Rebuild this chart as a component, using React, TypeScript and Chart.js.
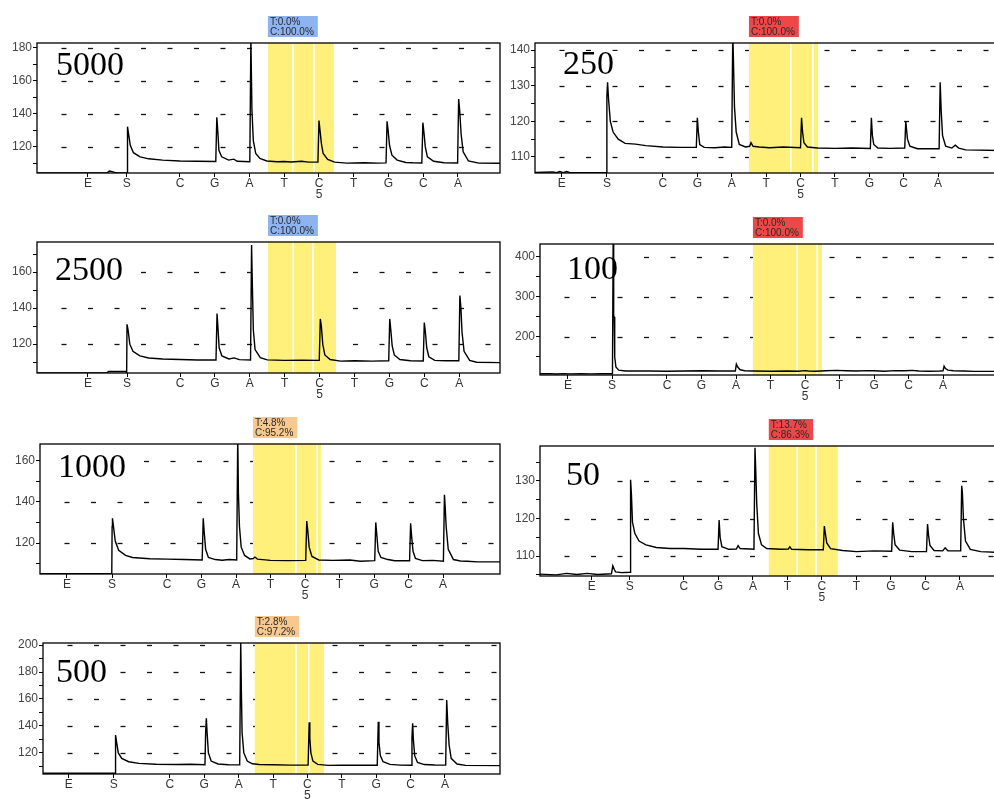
import React, { useEffect, useRef } from 'react';
import { Chart, registerables } from 'chart.js';
Chart.register(...registerables);

// ---------- DATA ----------
const DISPENSATIONS = ['E', 'S', 'C', 'G', 'A', 'T', 'C', 'T', 'G', 'C', 'A'];
const POSITION_NUMBERS = ['', '', '', '', '', '', '5', '', '', '', ''];

const TICKS_5000 = [1.35, 2.47, 4, 5, 6, 7, 8, 9, 10, 11, 12];
const TICKS_250 = [1.06, 2.37, 4, 5, 6, 7, 8, 9, 10, 11, 12];
const TICKS_2500 = [1.36, 2.48, 4, 5, 6, 7, 8, 9, 10, 11, 12];
const TICKS_100 = [1.13, 2.41, 4, 5, 6, 7, 8, 9, 10, 11, 12];
const TICKS_1000 = [1.1, 2.41, 4, 5, 6, 7, 8, 9, 10, 11, 12];
const TICKS_50 = [1.33, 2.43, 4, 5, 6, 7, 8, 9, 10, 11, 12];
const TICKS_500 = [1.06, 2.37, 4, 5, 6, 7, 8, 9, 10, 11, 12];

const YTICKS_5000 = [110, 120, 130, 140, 150, 160, 170, 180];
const YLABELS_5000 = [120, 140, 160, 180];
const YTICKS_250 = [110, 115, 120, 125, 130, 135, 140];
const YLABELS_250 = [110, 120, 130, 140];
const YTICKS_2500 = [110, 120, 130, 140, 150, 160, 170];
const YLABELS_2500 = [120, 140, 160];
const YTICKS_100 = [150, 200, 250, 300, 350, 400];
const YLABELS_100 = [200, 300, 400];
const YTICKS_1000 = [110, 120, 130, 140, 150, 160];
const YLABELS_1000 = [120, 140, 160];
const YTICKS_50 = [105, 110, 115, 120, 125, 130, 135];
const YLABELS_50 = [110, 120, 130];
const YTICKS_500 = [110, 120, 130, 140, 150, 160, 170, 180, 190, 200];
const YLABELS_500 = [120, 140, 160, 180, 200];

const RESULT_5000 = ['T:0.0%', 'C:100.0%'];
const RESULT_250 = ['T:0.0%', 'C:100.0%'];
const RESULT_2500 = ['T:0.0%', 'C:100.0%'];
const RESULT_100 = ['T:0.0%', 'C:100.0%'];
const RESULT_1000 = ['T:4.8%', 'C:95.2%'];
const RESULT_50 = ['T:13.7%', 'C:86.3%'];
const RESULT_500 = ['T:2.8%', 'C:97.2%'];

const TRACE_5000 = [
  [-0.2, 104.3], [1.9, 104.3], [1.97, 105.4], [2.05, 105.0], [2.12, 104.6], [2.2, 104.4], [2.48, 104.3],
  [2.49, 132.3], [2.52, 128], [2.57, 121], [2.66, 116.5], [2.85, 114], [3.1, 112.8], [3.5, 112], [4.0, 111.5], [4.5, 111.3], [5.03, 111.2],
  [5.06, 138], [5.09, 129], [5.12, 118], [5.2, 114], [5.4, 112], [5.55, 112.6], [5.65, 111.3], [6.01, 111],
  [6.04, 186], [6.07, 143], [6.11, 124], [6.18, 116], [6.3, 113], [6.5, 111.5], [6.8, 111], [7.0, 111.2], [7.2, 110.9], [7.5, 111.3], [7.7, 110.8], [7.97, 110.8],
  [8.0, 136], [8.03, 130], [8.07, 122], [8.12, 116], [8.25, 112.5], [8.45, 110.8], [8.8, 110.2], [9.3, 110.4], [9.7, 110.2], [9.93, 110.3],
  [9.96, 135.5], [9.99, 130], [10.03, 121], [10.1, 115], [10.25, 112], [10.5, 110.6], [10.7, 110.4], [10.96, 110.3],
  [10.99, 134.7], [11.02, 129], [11.06, 120], [11.12, 114], [11.3, 111.3], [11.6, 110.4], [11.99, 110.3],
  [12.02, 149], [12.05, 142], [12.09, 128], [12.15, 117], [12.3, 111.5], [12.6, 110.2], [13.4, 110.1],
];

const TRACE_250 = [
  [0.1, 105.6], [0.8, 105.8], [0.9, 105.6], [1.0, 105.9], [1.1, 105.6], [1.2, 105.9], [1.3, 105.6], [1.5, 105.6], [2.36, 105.6],
  [2.37, 127], [2.39, 131], [2.42, 126], [2.47, 120], [2.55, 117], [2.7, 115], [2.9, 113.8], [3.2, 113.6], [3.5, 113.2], [4.0, 112.8], [4.5, 112.7], [4.97, 112.7],
  [5.0, 121], [5.03, 117], [5.07, 113.5], [5.2, 112.7], [5.5, 112.6], [5.8, 112.8], [6.0, 112.7],
  [6.03, 145], [6.05, 137], [6.08, 124], [6.13, 117], [6.22, 113.5], [6.4, 112.8], [6.52, 113], [6.56, 114], [6.62, 113], [6.8, 112.8], [7.1, 112.6], [7.5, 112.8], [8.0, 112.6],
  [8.03, 121], [8.06, 117], [8.1, 114], [8.2, 112.8], [8.5, 112.5], [9.0, 112.4], [9.5, 112.5], [10.03, 112.4],
  [10.06, 121], [10.09, 116], [10.13, 113.5], [10.25, 112.5], [10.6, 112.4], [11.03, 112.5],
  [11.06, 120], [11.08, 118], [11.11, 115], [11.18, 113], [11.4, 112.3], [12.03, 112.3],
  [12.06, 131], [12.09, 123], [12.13, 116], [12.22, 113], [12.4, 112.5], [12.5, 113.3], [12.6, 112.5], [12.8, 112], [13.9, 111.8],
];

const TRACE_2500 = [
  [-0.2, 104], [1.9, 104], [1.95, 104.8], [2.45, 104.8], [2.47, 104.3],
  [2.48, 131], [2.51, 128], [2.56, 120], [2.65, 116], [2.85, 113.5], [3.1, 112.3], [3.5, 111.8], [4.0, 111.5], [4.5, 111.2], [5.03, 111.2],
  [5.06, 137], [5.09, 128], [5.12, 118], [5.2, 113.5], [5.4, 111.8], [5.55, 112.4], [5.7, 111.4], [6.02, 111.2],
  [6.05, 175], [6.07, 155], [6.1, 128], [6.15, 117], [6.3, 112.5], [6.5, 111.3], [7.0, 111], [7.5, 111.1], [7.99, 111],
  [8.02, 134], [8.05, 130], [8.09, 120], [8.15, 114], [8.3, 111.5], [8.6, 110.6], [9.0, 110.8], [9.5, 110.6], [9.98, 110.8],
  [10.01, 134], [10.04, 128], [10.08, 119], [10.14, 114], [10.3, 111.5], [10.6, 110.8], [10.97, 110.7],
  [11.0, 132], [11.03, 127], [11.07, 118], [11.13, 113], [11.3, 111], [11.6, 110.8], [11.99, 110.8],
  [12.02, 147], [12.05, 140], [12.08, 127], [12.14, 116], [12.3, 111], [12.5, 110], [13.3, 109.7],
];

const TRACE_100 = [
  [0.2, 108], [0.6, 108.5], [0.8, 107.5], [1.0, 108.5], [1.2, 107.8], [1.5, 108.5], [1.8, 107.8], [2.1, 108.3], [2.42, 108],
  [2.44, 440], [2.455, 250], [2.47, 250], [2.485, 150], [2.52, 125], [2.6, 117], [2.8, 115], [3.5, 115], [4.0, 114.5], [4.5, 114.8], [5.0, 115.5], [5.5, 115], [5.98, 115],
  [6.01, 132], [6.05, 125], [6.12, 118], [6.25, 115.5], [6.5, 115], [7.0, 114.5], [7.5, 115], [7.8, 114.5], [8.0, 116], [8.1, 115], [8.3, 114.5], [8.6, 115.5], [8.9, 116.5], [9.2, 115.5], [9.5, 115], [9.8, 116], [10.0, 115.5], [10.3, 114.5], [10.6, 116], [10.9, 115.5], [11.1, 116.5], [11.3, 115], [11.6, 114.5], [11.9, 115], [12.0, 115.5],
  [12.03, 127], [12.07, 121], [12.14, 117], [12.3, 115.5], [12.6, 115], [12.9, 114], [13.8, 114],
];

const TRACE_1000 = [
  [0.3, 105.2], [2.4, 105.2],
  [2.41, 128], [2.42, 132], [2.45, 128], [2.5, 121], [2.6, 116.5], [2.8, 114], [3.0, 113], [3.5, 112.4], [4.0, 112.2], [4.5, 112], [5.02, 111.8],
  [5.05, 132], [5.08, 125], [5.12, 117], [5.2, 113], [5.4, 112], [5.6, 111.7], [5.8, 112], [6.02, 111.8],
  [6.05, 172], [6.07, 144], [6.1, 128], [6.15, 118], [6.25, 114], [6.4, 112.3], [6.5, 112.5], [6.55, 113.2], [6.62, 112.2], [7.0, 111.6], [7.5, 111.5], [8.02, 111.6],
  [8.05, 130.7], [8.08, 126], [8.12, 118], [8.2, 113.5], [8.4, 111.8], [8.8, 111.6], [9.3, 111.8], [9.6, 111.2], [10.02, 111.5],
  [10.05, 130], [10.08, 124], [10.12, 116], [10.2, 113], [10.4, 112], [10.6, 111.4], [11.03, 111.4],
  [11.06, 129.6], [11.09, 123], [11.13, 116], [11.2, 112.5], [11.4, 111.5], [11.7, 111.6], [12.01, 111.2],
  [12.04, 143.4], [12.06, 138], [12.09, 128], [12.15, 117], [12.3, 112], [12.5, 111.3], [12.7, 111.2], [13.0, 110.9], [13.7, 110.9],
];

const TRACE_50 = [
  [-0.2, 105.2], [0.3, 105], [0.6, 105.4], [0.9, 105.1], [1.2, 105.4], [1.5, 105.1], [1.9, 105.3], [1.94, 107.4], [1.98, 106.5], [2.02, 105.8], [2.2, 105.6], [2.44, 105.7],
  [2.45, 126], [2.46, 130.3], [2.48, 126.3], [2.51, 119], [2.58, 116], [2.7, 114], [2.9, 113], [3.2, 112.3], [3.6, 112], [4.0, 112], [4.5, 111.8], [4.99, 111.8],
  [5.02, 119.6], [5.05, 115], [5.1, 112.5], [5.3, 111.8], [5.52, 111.9], [5.57, 112.8], [5.63, 112], [6.03, 111.8],
  [6.06, 138.8], [6.08, 133.4], [6.11, 124], [6.16, 116], [6.25, 113], [6.4, 112], [6.8, 111.8], [7.03, 111.9], [7.07, 112.5], [7.12, 111.8], [7.6, 111.7], [8.04, 111.7],
  [8.07, 118], [8.1, 116], [8.14, 113.5], [8.25, 112], [8.6, 111.5], [9.0, 111.2], [9.5, 111.4], [10.02, 111.3],
  [10.05, 119], [10.08, 116], [10.12, 113], [10.25, 111.6], [10.6, 111.2], [11.03, 111.2],
  [11.06, 118.5], [11.09, 115.5], [11.13, 112.8], [11.25, 111.5], [11.5, 111.4], [11.57, 112.2], [11.65, 111.4], [12.02, 111.4],
  [12.05, 128.7], [12.07, 126.9], [12.1, 120], [12.16, 114], [12.3, 111.8], [12.6, 111.2], [13.3, 110.9],
];

const TRACE_500 = [
  [0.2, 105], [2.41, 105],
  [2.42, 133.3], [2.45, 128], [2.5, 120], [2.6, 116], [2.8, 113.5], [3.1, 112.3], [3.6, 111.6], [4.2, 111.4], [4.6, 111.6], [5.02, 111.3],
  [5.04, 135.8], [5.06, 145.7], [5.08, 135.8], [5.12, 120], [5.2, 114], [5.4, 111.8], [5.7, 111.3], [6.03, 111.2],
  [6.06, 203], [6.08, 164], [6.1, 135], [6.15, 120], [6.25, 114], [6.4, 112], [6.6, 111.4], [7.0, 111.3], [7.5, 111], [8.02, 111],
  [8.05, 142.7], [8.07, 131], [8.1, 120], [8.16, 114], [8.3, 111.5], [8.6, 110.8], [9.0, 111], [9.5, 110.9], [10.03, 110.9],
  [10.06, 143.2], [10.08, 128], [10.12, 118], [10.2, 113.5], [10.4, 111.5], [10.7, 111], [11.02, 110.9],
  [11.04, 132], [11.06, 142], [11.08, 130], [11.12, 118], [11.2, 113], [11.4, 111.4], [11.7, 111.1], [12.02, 111],
  [12.05, 159.3], [12.08, 142], [12.12, 126], [12.18, 116], [12.35, 111.8], [12.6, 110.8], [13.6, 110.6],
];

// ---------- LAYOUT / STYLE ----------
const BLUE = '#8db3f1';
const RED = '#ee4747';
const ORANGE = '#f7c98e';

type PanelCfg = {
  name: string; trace: number[][]; ticks: number[]; yTicks: number[]; yLabels: number[]; result: string[];
  badge: string; box: number[]; x: number[]; y: number[]; region: number[]; splits: number[]; nameAt: number[];
};

const PANELS: PanelCfg[] = [
  { name: '5000', trace: TRACE_5000, ticks: TICKS_5000, yTicks: YTICKS_5000, yLabels: YLABELS_5000, result: RESULT_5000, badge: BLUE,
    box: [37, 43, 500, 173], x: [-0.115, 13.21], y: [104.2, 183], region: [6.53, 8.43], splits: [7.25, 7.86], nameAt: [19, 32] },
  { name: '250', trace: TRACE_250, ticks: TICKS_250, yTicks: YTICKS_250, yLabels: YLABELS_250, result: RESULT_250, badge: RED,
    box: [535, 43, 1000, 173], x: [0.28, 13.8], y: [105.5, 142], region: [6.5, 8.51], splits: [7.72, 8.36], nameAt: [28, 31] },
  { name: '2500', trace: TRACE_2500, ticks: TICKS_2500, yTicks: YTICKS_2500, yLabels: YLABELS_2500, result: RESULT_2500, badge: BLUE,
    box: [37, 242, 500, 373], x: [-0.1, 13.17], y: [104, 176.7], region: [6.52, 8.47], splits: [7.24, 7.81], nameAt: [18, 38] },
  { name: '100', trace: TRACE_100, ticks: TICKS_100, yTicks: YTICKS_100, yLabels: YLABELS_100, result: RESULT_100, badge: RED,
    box: [540, 244, 1000, 375], x: [0.32, 13.65], y: [105, 432], region: [6.49, 8.49], splits: [7.77, 8.35], nameAt: [27, 35] },
  { name: '1000', trace: TRACE_1000, ticks: TICKS_1000, yTicks: YTICKS_1000, yLabels: YLABELS_1000, result: RESULT_1000, badge: ORANGE,
    box: [40, 444, 500, 574], x: [0.32, 13.65], y: [105, 168], region: [6.49, 8.46], splits: [7.74, 8.35], nameAt: [18, 33] },
  { name: '50', trace: TRACE_50, ticks: TICKS_50, yTicks: YTICKS_50, yLabels: YLABELS_50, result: RESULT_50, badge: RED,
    box: [540, 446, 1000, 576], x: [-0.17, 13.16], y: [104.7, 139.3], region: [6.46, 8.46], splits: [7.28, 7.83], nameAt: [26, 39] },
  { name: '500', trace: TRACE_500, ticks: TICKS_500, yTicks: YTICKS_500, yLabels: YLABELS_500, result: RESULT_500, badge: ORANGE,
    box: [43, 643, 500, 774], x: [0.31, 13.6], y: [104.4, 201.5], region: [6.47, 8.48], splits: [7.67, 8.04], nameAt: [13, 39] },
];

const AXIS_W = 40;
const TOP_PAD = 30;
const AXIS_H = 30;
const SANS = '"Liberation Sans", Arial, sans-serif';

function makePlugin(cfg: PanelCfg) {
  return {
    id: 'pyro-' + cfg.name,
    beforeDatasetsDraw(chart: any) {
      const { ctx, chartArea: a, scales } = chart;
      const xs = scales.x, ys = scales.y;
      ctx.save();
      // dashed grid
      ctx.strokeStyle = '#111';
      ctx.lineWidth = 1.3;
      for (const v of cfg.yLabels) {
        const py = Math.round(ys.getPixelForValue(v)) + 0.5;
        if (py < a.top + 2 || py > a.bottom - 2) continue;
        for (let px = a.left + 27; px < a.right - 3; px += 26.5) {
          ctx.beginPath();
          ctx.moveTo(px - 2.5, py);
          ctx.lineTo(px + 2.5, py);
          ctx.stroke();
        }
      }
      // analysis region
      const x0 = xs.getPixelForValue(cfg.region[0]);
      const x1 = xs.getPixelForValue(cfg.region[1]);
      ctx.fillStyle = '#fff07c';
      ctx.fillRect(x0, a.top, x1 - x0, a.bottom - a.top);
      ctx.strokeStyle = '#ffffff';
      ctx.lineWidth = 1.5;
      for (const s of cfg.splits) {
        const px = xs.getPixelForValue(s);
        ctx.beginPath();
        ctx.moveTo(px, a.top);
        ctx.lineTo(px, a.bottom);
        ctx.stroke();
      }
      // sample name
      ctx.font = '34px "Liberation Serif", "Times New Roman", serif';
      const tw = ctx.measureText(cfg.name).width;
      const tx = a.left + cfg.nameAt[0];
      const ty = a.top + cfg.nameAt[1];
      ctx.fillStyle = '#ffffff';
      ctx.fillRect(tx - 4, ty - 23, tw + 12, 26);
      ctx.fillStyle = '#000';
      ctx.textBaseline = 'alphabetic';
      ctx.textAlign = 'left';
      ctx.fillText(cfg.name, tx, ty);
      ctx.restore();
    },
    afterDraw(chart: any) {
      const { ctx, chartArea: a, scales } = chart;
      ctx.save();
      ctx.strokeStyle = '#000';
      ctx.lineWidth = 1.3;
      ctx.strokeRect(a.left, a.top, a.right - a.left, a.bottom - a.top);
      // result badge
      ctx.font = '10px ' + SANS;
      const tw = Math.max(...cfg.result.map((l) => ctx.measureText(l).width));
      const bx = scales.x.getPixelForValue(cfg.region[0]);
      const bw = tw + 6;
      const bh = 21;
      const by = a.top - 6 - bh;
      ctx.fillStyle = cfg.badge;
      ctx.fillRect(bx, by, bw, bh);
      ctx.fillStyle = '#2a2a2a';
      ctx.textBaseline = 'middle';
      ctx.textAlign = 'left';
      ctx.fillText(cfg.result[0], bx + 2, by + 6);
      ctx.fillText(cfg.result[1], bx + 2, by + 16);
      ctx.restore();
    },
  };
}

function Panel({ cfg }: { cfg: PanelCfg }) {
  const ref = useRef<HTMLCanvasElement | null>(null);
  const w = AXIS_W + cfg.box[2] - cfg.box[0] + 2;
  const h = TOP_PAD + cfg.box[3] - cfg.box[1] + AXIS_H;
  useEffect(() => {
    if (!ref.current) return;
    const chart = new Chart(ref.current, {
      type: 'line',
      data: {
        datasets: [
          {
            data: cfg.trace.map(([x, y]) => ({ x, y })),
            borderColor: '#000',
            borderWidth: 1.4,
            pointRadius: 0,
            tension: 0,
            fill: false,
          },
        ],
      },
      options: {
        animation: false,
        responsive: false,
        maintainAspectRatio: false,
        devicePixelRatio: 1,
        events: [],
        layout: { padding: { top: TOP_PAD, left: 0, right: 2, bottom: 0 } },
        plugins: { legend: { display: false }, tooltip: { enabled: false } },
        scales: {
          x: {
            type: 'linear',
            min: cfg.x[0],
            max: cfg.x[1],
            afterBuildTicks: (axis: any) => {
              axis.ticks = cfg.ticks.map((v) => ({ value: v }));
            },
            afterFit: (axis: any) => {
              axis.height = AXIS_H;
            },
            ticks: {
              autoSkip: false,
              maxRotation: 0,
              minRotation: 0,
              padding: 2,
              color: '#333',
              font: { family: SANS, size: 12, lineHeight: 0.85 },
              callback: (_v: any, i: number) => (POSITION_NUMBERS[i] ? [DISPENSATIONS[i], POSITION_NUMBERS[i]] : DISPENSATIONS[i]),
            },
            grid: { drawOnChartArea: false, drawTicks: true, tickLength: 4, color: '#000' },
            border: { display: false },
          },
          y: {
            type: 'linear',
            min: cfg.y[0],
            max: cfg.y[1],
            afterBuildTicks: (axis: any) => {
              axis.ticks = cfg.yTicks.map((v) => ({ value: v }));
            },
            afterFit: (axis: any) => {
              axis.width = AXIS_W;
            },
            ticks: {
              autoSkip: false,
              padding: 1,
              color: '#444',
              font: { family: SANS, size: 12 },
              callback: (v: any) => (cfg.yLabels.includes(v) ? String(v) : ''),
            },
            grid: { drawOnChartArea: false, drawTicks: true, tickLength: 4, color: '#000' },
            border: { display: false },
          },
        },
      },
      plugins: [makePlugin(cfg)],
    } as any);
    return () => chart.destroy();
  }, []);
  return (
    <canvas
      ref={ref}
      width={w}
      height={h}
      style={{ position: 'absolute', left: cfg.box[0] - AXIS_W, top: cfg.box[1] - TOP_PAD, width: w, height: h }}
    />
  );
}

export default function App() {
  return (
    <div style={{ position: 'fixed', left: 0, top: 0, width: 994, height: 799, overflow: 'hidden', background: '#fff' }}>
      {PANELS.map((p) => (
        <Panel key={p.name} cfg={p} />
      ))}
    </div>
  );
}
